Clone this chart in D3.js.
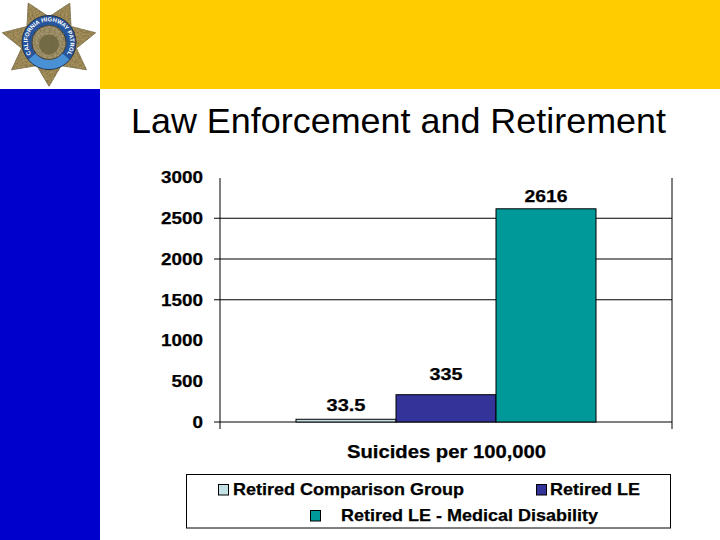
<!DOCTYPE html>
<html><head><meta charset="utf-8">
<script src="https://cdn.jsdelivr.net/npm/d3@7/dist/d3.min.js"></script>
<style>html,body{margin:0;padding:0;background:#fff}svg{display:block}text{font-family:"Liberation Sans",Arial,sans-serif}</style>
</head><body><svg id="c" width="720" height="540"></svg>
<script>
const titleText = "Law Enforcement and Retirement";
const axisTitle = "Suicides per 100,000";
const seriesNames = ["Retired Comparison Group","Retired LE","Retired LE - Medical Disability"];
const seriesValues = [33.5,335,2616];
const seriesLabels = ["33.5","335","2616"];
const seriesColors = ["#c4e2e6","#333399","#009999"];
const yTicks = [0,500,1000,1500,2000,2500,3000];
const gridTicks = [0,1500,2000,2500];

const svg = d3.select("#c");
const heavy = s => s.attr("font-weight","bold").attr("fill","#000").attr("stroke","#000").attr("stroke-width",0.25);
svg.append("rect").attr("x",100).attr("width",620).attr("height",89).attr("fill","#ffcc00");
svg.append("rect").attr("y",89).attr("width",100).attr("height",451).attr("fill","#0000cc");

// badge
const defs = svg.append("defs");
const f = defs.append("filter").attr("id","speckle").attr("x","-5%").attr("y","-5%").attr("width","110%").attr("height","110%");
f.append("feTurbulence").attr("type","fractalNoise").attr("baseFrequency",0.55).attr("numOctaves",2).attr("seed",4).attr("result","n");
f.append("feColorMatrix").attr("in","n").attr("type","matrix").attr("values","0 0 0 0 0.2  0 0 0 0 0.15  0 0 0 0 0.05  1.8 0 0 0 -0.55").attr("result","d");
f.append("feComposite").attr("in","d").attr("in2","SourceAlpha").attr("operator","in").attr("result","t");
const m = f.append("feMerge"); m.append("feMergeNode").attr("in","SourceGraphic"); m.append("feMergeNode").attr("in","t");

const badge = svg.append("g").attr("transform","translate(49,42.5)");
const pts = d3.range(14).map(i=>{
  const a = Math.PI/2 + i*Math.PI/7, r = i%2===0?46:27;
  return [r*Math.cos(a), r*Math.sin(a)];
});
badge.append("path").attr("transform","scale(1.04,0.95)").attr("d",d3.line().curve(d3.curveLinearClosed)(pts)).attr("fill","#a8925f").attr("stroke","#7d7250").attr("stroke-width",0.8).attr("filter","url(#speckle)");
badge.append("circle").attr("r",27).attr("fill","#27559c").attr("stroke","#24344f").attr("stroke-width",1);
badge.append("path").attr("d",d3.arc()({innerRadius:17,outerRadius:26.5,startAngle:Math.PI*0.72,endAngle:Math.PI*1.28})).attr("fill","#4a90d4");
badge.append("circle").attr("r",17).attr("fill","#a69872").attr("stroke","#1f2a3a").attr("stroke-width",1).attr("filter","url(#speckle)");
badge.append("circle").attr("r",10).attr("cy",2).attr("fill","#6e6a48").attr("filter","url(#speckle)");
defs.append("path").attr("id","arc").attr("d","M -15.5 14.5 A 21.2 21.2 0 1 1 15.5 14.5");
badge.append("text").attr("font-size",5.9).attr("font-weight","bold").attr("fill","#fff")
  .append("textPath").attr("href","#arc").attr("startOffset","50%").attr("text-anchor","middle").text("CALIFORNIA HIGHWAY PATROL");

svg.append("text").attr("x",131).attr("y",132.5).attr("font-size",34.5).attr("fill","#000").attr("textLength",535).attr("lengthAdjust","spacingAndGlyphs").text(titleText);

// chart
const y = d3.scaleLinear().domain([0,3000]).range([422,177.5]);
const x = d3.scaleBand().domain(seriesNames).range([296,596]);
const plotL = 220, plotR = 672;
const gAxis = svg.append("g").attr("transform","translate(203,0)")
  .call(d3.axisLeft(y).tickValues(yTicks).tickSize(0).tickPadding(0).tickFormat(d3.format("d")));
gAxis.select(".domain").remove();
gAxis.selectAll("text").attr("font-size",17).call(heavy).style("font-family",'"Liberation Sans"')
  .attr("textLength",d=>String(d).length*10.5).attr("lengthAdjust","spacingAndGlyphs");
svg.append("g").selectAll("line").data(gridTicks).join("line")
  .attr("x1",214).attr("x2",plotR).attr("y1",d=>y(d)).attr("y2",d=>y(d)).attr("stroke","#000").attr("stroke-width",1);
svg.append("line").attr("x1",plotL).attr("x2",plotL).attr("y1",178).attr("y2",429).attr("stroke","#000");
svg.append("line").attr("x1",plotR).attr("x2",plotR).attr("y1",178).attr("y2",429).attr("stroke","#000");

svg.append("g").selectAll("rect").data(seriesValues).join("rect")
  .attr("x",(d,i)=>x(seriesNames[i])).attr("width",x.bandwidth())
  .attr("y",d=>y(d)).attr("height",d=>y(0)-y(d))
  .attr("fill",(d,i)=>seriesColors[i]).attr("stroke","#000").attr("stroke-width",1);
const labelWidths = [39,33,43];
svg.append("g").selectAll("text").data(seriesValues).join("text")
  .attr("x",(d,i)=>x(seriesNames[i])+x.bandwidth()/2)
  .attr("y",(d,i)=>y(d)-[8,14.5,6.5][i])
  .attr("text-anchor","middle").attr("font-size",17).call(heavy)
  .attr("textLength",(d,i)=>labelWidths[i]).attr("lengthAdjust","spacingAndGlyphs")
  .text((d,i)=>seriesLabels[i]);
svg.append("text").attr("x",347).attr("y",458).attr("font-size",18).call(heavy)
  .attr("textLength",199).attr("lengthAdjust","spacingAndGlyphs").text(axisTitle);

// legend
svg.append("rect").attr("x",186.5).attr("y",474.5).attr("width",484).attr("height",53.5).attr("fill","#fff").attr("stroke","#000");
const legendPos = [[218,484,233,495,231],[536,484,550,495,90],[310,510,341,521,257]];
seriesNames.forEach((n,i)=>{
  const p = legendPos[i];
  svg.append("rect").attr("x",p[0]+.5).attr("y",p[1]+.5).attr("width",10).attr("height",10.5).attr("fill",seriesColors[i]).attr("stroke","#000");
  svg.append("text").attr("x",p[2]).attr("y",p[3]).attr("font-size",17).call(heavy)
    .attr("textLength",p[4]).attr("lengthAdjust","spacingAndGlyphs").text(n);
});
</script></body></html>
